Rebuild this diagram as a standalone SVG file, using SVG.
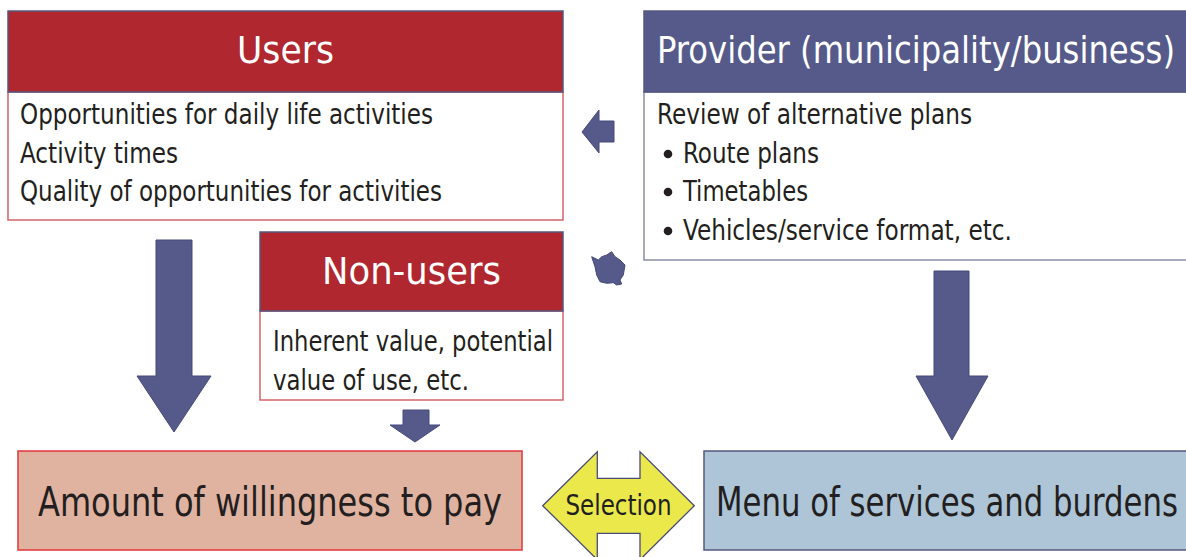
<svg xmlns="http://www.w3.org/2000/svg" width="1186" height="557" viewBox="0 0 1186 557">
  <style>
    text { font-family: "Liberation Sans Narrow", "DejaVu Sans Condensed", "Liberation Sans", sans-serif; }
    .hdr-red { fill: #b1272f; stroke: #55587f; stroke-width: 1.5; }
    .hdr-blue { fill: #555a8a; stroke: #55587f; stroke-width: 1.5; }
    .body-red { fill: #ffffff; stroke: #d4636a; stroke-width: 1.5; }
    .body-blue { fill: #ffffff; stroke: #8c8ca8; stroke-width: 1.5; }
    .title { fill: #ffffff; font-size: 38px; }
    .body { fill: #231f20; font-size: 28px; }
    .big { fill: #231f20; font-size: 41px; }
    .arrow { fill: #555a8a; stroke: #46497a; stroke-width: 1; }
  </style>

  <!-- Users -->
  <g id="users">
    <rect class="body-red" x="8" y="92" width="555" height="128"/>
    <rect class="hdr-red" x="8" y="11" width="555" height="81"/>
    <text class="title" x="285.5" y="63" text-anchor="middle" textLength="97" lengthAdjust="spacingAndGlyphs">Users</text>
    <text class="body" x="20" y="124" textLength="413" lengthAdjust="spacingAndGlyphs">Opportunities for daily life activities</text>
    <text class="body" x="20" y="163" textLength="158" lengthAdjust="spacingAndGlyphs">Activity times</text>
    <text class="body" x="20" y="201" textLength="422" lengthAdjust="spacingAndGlyphs">Quality of opportunities for activities</text>
  </g>

  <!-- Provider (runs to the right edge) -->
  <g id="provider">
    <rect class="body-blue" x="644" y="92" width="544" height="168"/>
    <rect class="hdr-blue" x="644" y="11" width="544" height="81"/>
    <text class="title" x="657" y="63" textLength="518" lengthAdjust="spacingAndGlyphs">Provider (municipality/business)</text>
    <text class="body" x="657" y="124" textLength="315" lengthAdjust="spacingAndGlyphs">Review of alternative plans</text>
    <circle cx="668" cy="154" r="4.3" fill="#231f20"/>
    <text class="body" x="683" y="163" textLength="136" lengthAdjust="spacingAndGlyphs">Route plans</text>
    <circle cx="668" cy="192" r="4.3" fill="#231f20"/>
    <text class="body" x="683" y="201" textLength="125" lengthAdjust="spacingAndGlyphs">Timetables</text>
    <circle cx="668" cy="231" r="4.3" fill="#231f20"/>
    <text class="body" x="683" y="240" textLength="329" lengthAdjust="spacingAndGlyphs">Vehicles/service format, etc.</text>
  </g>

  <!-- Non-users -->
  <g id="non-users">
    <rect class="body-red" x="260" y="311" width="303" height="89"/>
    <rect class="hdr-red" x="260" y="232" width="303" height="79"/>
    <text class="title" x="411.5" y="284" text-anchor="middle" textLength="179" lengthAdjust="spacingAndGlyphs">Non-users</text>
    <text class="body" x="273" y="351" textLength="280" lengthAdjust="spacingAndGlyphs">Inherent value, potential</text>
    <text class="body" x="273" y="390" textLength="196" lengthAdjust="spacingAndGlyphs">value of use, etc.</text>
  </g>

  <!-- Amount of willingness to pay -->
  <g id="willingness">
    <rect x="18" y="451" width="504" height="99" fill="#e0b3a0" stroke="#e2363a" stroke-width="1.5"/>
    <text class="big" x="270" y="516" text-anchor="middle" textLength="464" lengthAdjust="spacingAndGlyphs">Amount of willingness to pay</text>
  </g>

  <!-- Menu of services and burdens (runs to the right edge) -->
  <g id="menu">
    <rect x="704" y="451" width="484" height="99" fill="#adc5d7" stroke="#55587f" stroke-width="1.5"/>
    <text class="big" x="716" y="516" textLength="462" lengthAdjust="spacingAndGlyphs">Menu of services and burdens</text>
  </g>

  <!-- Selection -->
  <g id="selection">
    <polygon points="542.7,505.7 597.3,451.7 597.3,478.3 640,478.3 640,451.7 694.3,505.7 640,559.7 640,533.3 597.3,533.3 597.3,559.7" fill="#ebe84b" stroke="#4a4a78" stroke-width="1.3"/>
    <text x="618.5" y="515" text-anchor="middle" font-size="28" fill="#231f20" textLength="106" lengthAdjust="spacingAndGlyphs">Selection</text>
  </g>

  <!-- Connectors -->
  <g id="connectors">
    <!-- Users to willingness -->
    <polygon class="arrow" points="156,240 192,240 192,376 211,376 174,432 137,376 156,376"/>
    <!-- Provider to menu -->
    <polygon class="arrow" points="934,271 969,271 969,376 988,376 952,440 916,376 934,376"/>
    <!-- Non-users to willingness -->
    <polygon class="arrow" points="403,410 429,410 429,425 440,425 415,442 390,425 403,425"/>
    <!-- Provider to users -->
    <polygon class="arrow" points="614,121 614,142 599,142 599,153 582,132 599,110 599,121"/>
    <!-- Provider to non-users -->
    <polygon class="arrow" points="591.7,256.7 598.3,260 601.7,256.7 606.7,255 611.7,251.7 615,256.7 620,260 625,265 623.3,275 620,280 621.7,284 616.7,285 613.3,282.7 606.7,283.3 600,281.7 596.7,275 595,266.7 593.3,261.7"/>
  </g>
</svg>
